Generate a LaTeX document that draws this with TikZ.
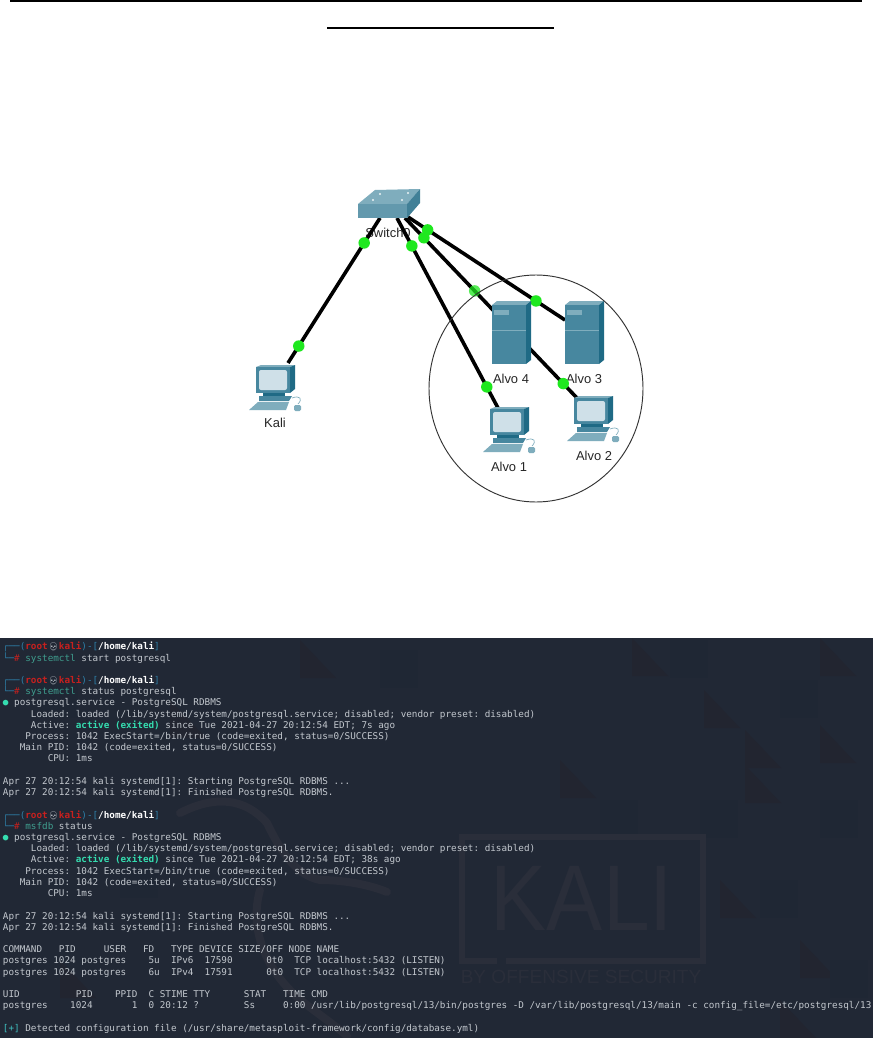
\documentclass[tikz,border=0pt]{standalone}
\usepackage{fontspec}
\setmainfont{Liberation Sans}
\setmonofont{DejaVu Sans Mono}
\newfontfamily\emojifont{Noto Emoji}
\definecolor{termbg}{HTML}{212835}
\definecolor{termtile}{HTML}{222530}
\definecolor{termtile2}{HTML}{1F2734}
\definecolor{wmark}{HTML}{2A2E3A}
\definecolor{termfg}{HTML}{C3C8CE}
\definecolor{promptblue}{HTML}{2E7FA8}
\definecolor{promptred}{HTML}{C8201E}
\definecolor{cmdgreen}{HTML}{3F9E8E}
\definecolor{activegreen}{HTML}{35DDB0}
\definecolor{plusteal}{HTML}{3FBFC0}
\definecolor{ciscoface}{HTML}{47879F}
\definecolor{ciscoside}{HTML}{1F6A85}
\definecolor{ciscotop}{HTML}{7FADBD}
\definecolor{ciscoscreen}{HTML}{CFE0E8}
\definecolor{ledgreen}{HTML}{1FE81F}
\tikzset{
  link/.style={line width=2.7pt, black},
  led/.style={circle, fill=ledgreen, inner sep=0pt, minimum size=8.6pt},
  devlabel/.style={font=\fontsize{9.7}{11}\selectfont, text=black!85, inner sep=0pt},
  termtext/.style={font=\ttfamily\fontsize{6.98}{8.4}\selectfont, text=termfg, anchor=west, inner sep=0pt, text height=5pt, text depth=1.2pt},
  pc/.pic={
    \fill[ciscotop] (0,0) -- (5,-2) -- (39,-2) -- (34,0) -- cycle;
    \fill[ciscoside] (34,0) -- (39,-2) -- (39,22) -- (34,26) -- cycle;
    \fill[ciscoface] (0,0) rectangle (34,26);
    \fill[ciscoscreen, rounded corners=1.5pt] (3,3) rectangle (31,23);
    \fill[ciscoside] (7,26) rectangle (29,29);
    \fill[ciscoface] (3,29) -- (36,29) -- (33,34) -- (3,34) -- cycle;
    \fill[ciscotop] (-7,43) -- (2,35) -- (33,35) -- (30,43) -- cycle;
    \draw[ciscotop, line width=.5pt] (36,31) .. controls (44,28) and (47,32) .. (42,37);
    \fill[ciscotop, rounded corners=1pt] (38,38) rectangle (45,44);
  },
  server/.pic={
    \fill[ciscotop] (0,0) -- (5,-4) -- (39,-4) -- (34,0) -- cycle;
    \fill[ciscoside] (34,0) -- (39,-4) -- (39,55) -- (34,59) -- cycle;
    \fill[ciscoface] (0,0) rectangle (34,59);
    \fill[ciscotop] (2,5) rectangle (17,10);
    \draw[ciscotop, line width=.4pt] (0,25) -- (34,25);
  },
  switchbox/.pic={
    \fill[ciscotop] (0,0) -- (17,-14) -- (62,-15) -- (49,0) -- cycle;
    \fill[ciscoside!85!white] (49,0) -- (62,-15) -- (62,-1) -- (49,14) -- cycle;
    \fill[ciscoface!85!white] (0,0) rectangle (49,14);
    \foreach \dx/\dy in {22/-10, 50/-11, 15/-4, 44/-4}
      \fill[white!85!ciscotop] (\dx,\dy) circle (.9pt);
  },
}
\newcommand{\termline}[2]{\node[termtext] (line#1) at (2.7,{647.3+11.215*#1}) {#2};}
\newcommand{\rootprompt}{\textcolor{promptblue}{┌──(}\textcolor{promptred}{\textbf{root}}\makebox[8.4pt]{\emojifont\fontsize{6}{7}\selectfont\textcolor{termfg}{💀}}\textcolor{promptred}{\textbf{kali}}\textcolor{promptblue}{)-[}\textcolor{white}{\textbf{/home/kali}}\textcolor{promptblue}{]}}
\newcommand{\rootcmd}[2]{\textcolor{promptblue}{└─}\textcolor{promptred}{\#}~\textcolor{cmdgreen}{#1}#2}
\begin{document}
\begin{tikzpicture}[x=0.75pt, y=-0.75pt]
    \useasboundingbox (0,0) rectangle (874,1038);
    \fill[white] (0,0) rectangle (874,1038);
    \draw[line width=1pt] (10,1) -- (862,1);
    \draw[line width=1.6pt] (327,28) -- (554,28);

    \node[devlabel] (switchlabel) at (388,233) {Switch0};
    \node[devlabel] (kalilabel) at (275,423) {Kali};
    \node[devlabel] (alvo4label) at (511,379) {Alvo 4};
    \node[devlabel] (alvo3label) at (584,379) {Alvo 3};
    \node[devlabel] (alvo1label) at (509,467) {Alvo 1};
    \node[devlabel] (alvo2label) at (594,456) {Alvo 2};

    \coordinate (swkali) at (380,218);
    \coordinate (swalvo1) at (397,218);
    \coordinate (swalvo2) at (405,218);
    \coordinate (swalvo3) at (408,217);
    \coordinate (kali) at (288,363);
    \coordinate (alvo1) at (498,408);
    \coordinate (alvo2) at (577,398);
    \coordinate (alvo3) at (565,320);

    \draw[link] (swkali) -- (kali) node[led, pos=.172] (ledk1) {} node[led, pos=.883] (ledk2) {};
    \draw[link] (swalvo1) -- (alvo1) node[led, pos=.147] (leda1) {} node[led, pos=.889] (ledb1) {};
    \draw[link] (swalvo2) -- (alvo2) node[led, pos=.11] (leda2) {} node[led, pos=.405, opacity=.75] (ledc2) {} node[led, pos=.92] (ledb2) {};
    \draw[link] (swalvo3) -- (alvo3) node[led, pos=.125] (leda3) {} node[led, pos=.815] (ledb3) {};

    \pic at (358,204) {switchbox};
    \pic at (256,367) {pc};
    \pic at (490,409) {pc};
    \pic at (574,398) {pc};
    \pic at (492,305) {server};
    \pic at (565,305) {server};
    \draw[black!80, line width=.7pt] (536,388.5) ellipse [x radius=107, y radius=113.5];

    \fill[termbg] (0,638) rectangle (873,1038);
    \foreach \tx/\ty in {632/638, 820/638, 704/690, 745/730, 560/760, 745/765, 820/725, 300/640, 170/700, 60/960, 720/880, 800/940, 780/1000}
      \fill[termtile] (\tx,\ty) -- ++(36,38) -- ++(-36,0) -- cycle;
    \foreach \tx/\ty in {670/640, 780/680, 600/800, 700/800, 820/800, 760/880, 830/960, 40/680, 120/860, 380/650}
      \fill[termtile2] (\tx,\ty) rectangle ++(38,38);

    \draw[wmark, line width=6pt, line cap=round] (180,813) .. controls (215,795) and (245,798) .. (267,823) .. controls (280,850) and (295,875) .. (320,880) .. controls (345,880) and (370,885) .. (387,892);
    \draw[wmark, line width=6pt, line cap=round] (260,890) .. controls (250,925) and (262,965) .. (297,997) .. controls (315,1012) and (335,1025) .. (347,1036);
    \draw[wmark, line width=5.2pt] (497,961) -- (462,961) -- (462,837) -- (703,837) -- (703,961) -- (506,961);
    \node[text=wmark, inner sep=0pt, xscale=.9, font=\fontsize{70}{70}\selectfont] (kaliword) at (582,898) {KALI};
    \node[text=wmark, inner sep=0pt, font=\fontsize{14.3}{15}\selectfont] (bywords) at (581,977) {BY OFFENSIVE SECURITY};

    \termline{0}{\rootprompt}
    \termline{1}{\rootcmd{systemctl}{ start postgresql}}
    \termline{3}{\rootprompt}
    \termline{4}{\rootcmd{systemctl}{ status postgresql}}
    \termline{5}{\textcolor{activegreen}{●}~postgresql.service - PostgreSQL RDBMS}
    \termline{6}{~~~~~Loaded: loaded (/lib/systemd/system/postgresql.service; disabled; vendor preset: disabled)}
    \termline{7}{~~~~~Active: \textcolor{activegreen}{\textbf{active (exited)}} since Tue 2021-04-27 20:12:54 EDT; 7s ago}
    \termline{8}{~~~~Process: 1042 ExecStart=/bin/true (code=exited, status=0/SUCCESS)}
    \termline{9}{~~~Main PID: 1042 (code=exited, status=0/SUCCESS)}
    \termline{10}{~~~~~~~~CPU: 1ms}
    \termline{12}{Apr 27 20:12:54 kali systemd[1]: Starting PostgreSQL RDBMS ...}
    \termline{13}{Apr 27 20:12:54 kali systemd[1]: Finished PostgreSQL RDBMS.}
    \termline{15}{\rootprompt}
    \termline{16}{\rootcmd{msfdb}{ status}}
    \termline{17}{\textcolor{activegreen}{●}~postgresql.service - PostgreSQL RDBMS}
    \termline{18}{~~~~~Loaded: loaded (/lib/systemd/system/postgresql.service; disabled; vendor preset: disabled)}
    \termline{19}{~~~~~Active: \textcolor{activegreen}{\textbf{active (exited)}} since Tue 2021-04-27 20:12:54 EDT; 38s ago}
    \termline{20}{~~~~Process: 1042 ExecStart=/bin/true (code=exited, status=0/SUCCESS)}
    \termline{21}{~~~Main PID: 1042 (code=exited, status=0/SUCCESS)}
    \termline{22}{~~~~~~~~CPU: 1ms}
    \termline{24}{Apr 27 20:12:54 kali systemd[1]: Starting PostgreSQL RDBMS ...}
    \termline{25}{Apr 27 20:12:54 kali systemd[1]: Finished PostgreSQL RDBMS.}
    \termline{27}{COMMAND~~~PID~~~~~USER~~~FD~~~TYPE DEVICE SIZE/OFF NODE NAME}
    \termline{28}{postgres 1024 postgres~~~~5u~~IPv6~~17590~~~~~~0t0~~TCP localhost:5432 (LISTEN)}
    \termline{29}{postgres 1024 postgres~~~~6u~~IPv4~~17591~~~~~~0t0~~TCP localhost:5432 (LISTEN)}
    \termline{31}{UID~~~~~~~~~~PID~~~~PPID~~C STIME TTY~~~~~~STAT~~~TIME CMD}
    \termline{32}{postgres~~~~1024~~~~~~~1~~0 20:12 ?~~~~~~~~Ss~~~~~0:00 /usr/lib/postgresql/13/bin/postgres -D /var/lib/postgresql/13/main -c config\_file=/etc/postgresql/13}
    \termline{34}{\textcolor{plusteal}{[+]} Detected configuration file (/usr/share/metasploit-framework/config/database.yml)}
\end{tikzpicture}
\end{document}
